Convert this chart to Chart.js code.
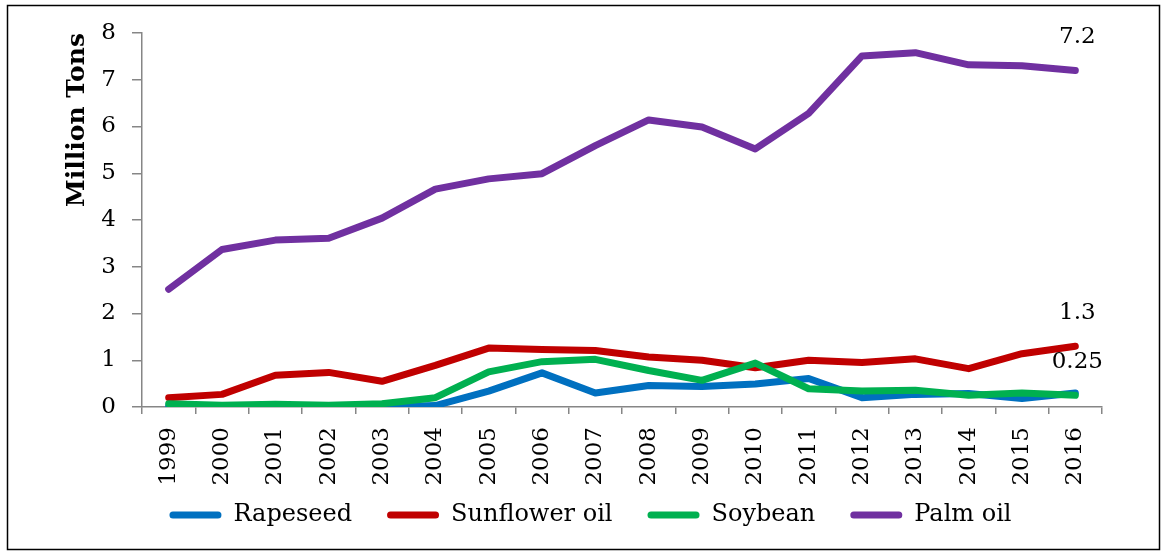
<!DOCTYPE html>
<html>
<head>
<meta charset="utf-8">
<script src="https://cdn.jsdelivr.net/npm/chart.js@4/dist/chart.umd.min.js"></script>
<style>
  html, body { margin: 0; padding: 0; background: #ffffff; }
  canvas { display: block; }
</style>
</head>
<body>
<canvas id="chart" width="1165" height="553"></canvas>
<script>
// Vegetable oil volumes, million tons per year
const years = ['1999','2000','2001','2002','2003','2004','2005','2006','2007','2008',
               '2009','2010','2011','2012','2013','2014','2015','2016'];
const rapeseed  = [0.02,0.00,0.00,0.00,0.00,0.03,0.34,0.73,0.30,0.46,0.44,0.49,0.61,0.20,0.27,0.29,0.18,0.30];
const sunflower = [0.20,0.27,0.68,0.74,0.55,0.89,1.26,1.23,1.21,1.07,1.00,0.84,1.00,0.95,1.03,0.82,1.14,1.30];
const soybean   = [0.07,0.04,0.06,0.04,0.07,0.20,0.75,0.97,1.02,0.78,0.57,0.94,0.39,0.34,0.36,0.25,0.30,0.25];
const palmOil   = [2.52,3.37,3.57,3.61,4.04,4.66,4.88,4.99,5.59,6.14,5.99,5.52,6.28,7.51,7.58,7.32,7.30,7.20];
const yTicks    = [0,1,2,3,4,5,6,7,8];

const FONT = "'DejaVu Serif', serif";

function series(label, data, color, order, endLabel) {
  return {
    label, data,
    borderColor: color, backgroundColor: color,
    borderWidth: 7, borderCapStyle: 'round', borderJoinStyle: 'round',
    pointRadius: 0, pointHoverRadius: 0, tension: 0, fill: false,
    order, endLabel
  };
}

// Frame around the whole figure
const framePlugin = {
  id: 'frame',
  beforeDraw(chart) {
    const ctx = chart.ctx;
    ctx.save();
    ctx.fillStyle = '#ffffff';
    ctx.fillRect(0, 0, chart.width, chart.height);
    ctx.strokeStyle = '#000000';
    ctx.lineWidth = 1.5;
    ctx.strokeRect(7.5, 5.5, 1152, 544);
    ctx.restore();
  }
};

// Legend sits a little higher and further right than the default box
const legendShift = {
  id: 'legendShift',
  afterLayout(chart) {
    const lg = chart.legend;
    if (!lg) return;
    lg.top -= 25; lg.bottom -= 25;
    lg.left += 12; lg.right += 12;
  }
};

// Value written above the last point of selected series
const endLabelPlugin = {
  id: 'endLabels',
  afterDatasetsDraw(chart) {
    const ctx = chart.ctx;
    ctx.save();
    ctx.font = "23px " + FONT;
    ctx.fillStyle = '#000000';
    ctx.textAlign = 'center';
    ctx.textBaseline = 'middle';
    chart.data.datasets.forEach((ds, i) => {
      if (!ds.endLabel) return;
      const meta = chart.getDatasetMeta(i);
      const last = ds.data.length - 1;
      const pt = meta.data[last];
      ctx.fillText(String(ds.data[last]), pt.x + 2, pt.y - 33);
    });
    ctx.restore();
  }
};

new Chart(document.getElementById('chart'), {
  type: 'line',
  data: {
    labels: years,
    datasets: [
      series('Rapeseed', rapeseed, '#0070C0', 4, false),
      series('Sunflower oil', sunflower, '#C00000', 3, true),
      series('Soybean', soybean, '#00B050', 2, true),
      series('Palm oil', palmOil, '#7030A0', 1, true)
    ]
  },
  options: {
    responsive: false,
    animation: false,
    devicePixelRatio: 1,
    layout: { padding: { left: 55, right: 63, top: 33, bottom: 0 } },
    plugins: {
      tooltip: { enabled: false },
      legend: {
        position: 'bottom',
        maxHeight: 60,
        labels: {
          font: { family: FONT, size: 24 },
          color: '#000000',
          boxWidth: 52,
          boxHeight: 7,
          padding: 35,
          useBorderRadius: true,
          borderRadius: 3.5,
          sort: (a, b) => a.datasetIndex - b.datasetIndex,
          generateLabels(chart) {
            const items = Chart.defaults.plugins.legend.labels.generateLabels(chart);
            items.forEach(it => { it.lineWidth = 0; });
            return items;
          }
        }
      }
    },
    scales: {
      x: {
        offset: true,
        grid: { display: true, drawOnChartArea: false, drawTicks: true, tickLength: 7,
                tickColor: '#868686', offset: true, lineWidth: 1.5 },
        border: { display: true, color: '#868686', width: 1.5 },
        ticks: {
          font: { family: FONT, size: 23 }, color: '#000000',
          minRotation: 90, maxRotation: 90, padding: 13, autoSkip: false
        },
        afterFit(scale) { scale.height = 86; }
      },
      y: {
        min: 0, max: 8,
        afterBuildTicks(scale) { scale.ticks = yTicks.map(v => ({ value: v })); },
        grid: { display: true, drawOnChartArea: false, drawTicks: true, tickLength: 10,
                tickColor: '#868686', lineWidth: 1.5 },
        border: { display: true, color: '#868686', width: 1.5 },
        ticks: { font: { family: FONT, size: 23 }, color: '#000000', padding: 16 },
        title: {
          display: true, text: 'Million Tons', color: '#000000', align: 'end',
          font: { family: FONT, size: 25, weight: 'bold' },
          padding: { top: 7, bottom: 0 }
        },
        afterFit(scale) { scale.width = 87; }
      }
    }
  },
  plugins: [framePlugin, legendShift, endLabelPlugin]
});
</script>
</body>
</html>
